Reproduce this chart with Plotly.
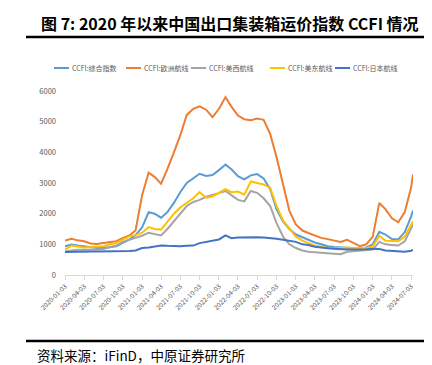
import plotly.graph_objects as go

dates = [
    "2020-01-03", "2020-02-03", "2020-03-03", "2020-04-03", "2020-05-03", "2020-06-03",
    "2020-07-03", "2020-08-03", "2020-09-03", "2020-10-03", "2020-11-03", "2020-12-03",
    "2021-01-03", "2021-02-03", "2021-03-03", "2021-04-03", "2021-05-03", "2021-06-03",
    "2021-07-03", "2021-08-03", "2021-09-03", "2021-10-03", "2021-11-03", "2021-12-03",
    "2022-01-03", "2022-02-03", "2022-03-03", "2022-04-03", "2022-05-03", "2022-06-03",
    "2022-07-03", "2022-08-03", "2022-09-03", "2022-10-03", "2022-11-03", "2022-12-03",
    "2023-01-03", "2023-02-03", "2023-03-03", "2023-04-03", "2023-05-03", "2023-06-03",
    "2023-07-03", "2023-08-03", "2023-09-03", "2023-10-03", "2023-11-03", "2023-12-03",
    "2024-01-03", "2024-02-03", "2024-03-03", "2024-04-03", "2024-05-03", "2024-06-03",
    "2024-07-03", "2024-07-12",
]

ccfi_composite = [
    935, 990, 960, 935, 900, 880, 880, 900, 935, 1050, 1150, 1300,
    1550, 2050, 2000, 1870, 2050, 2350, 2700, 3000, 3150, 3300, 3230, 3260,
    3420, 3600, 3450, 3220, 3120, 3250, 3290, 3150, 2800, 2150, 1750, 1500,
    1320, 1230, 1150, 1060, 1000, 940, 910, 890, 880, 870, 860, 900,
    1000, 1410, 1320, 1170, 1160, 1400, 1900, 2100,
]
ccfi_europe = [
    1120, 1180, 1130, 1100, 1030, 1010, 1040, 1070, 1100, 1200, 1290, 1450,
    2600, 3340, 3200, 2980, 3450, 4000, 4550, 5220, 5420, 5500, 5390, 5150,
    5420, 5800, 5490, 5200, 5080, 5050, 5100, 5060, 4600, 3850, 2950, 2100,
    1650, 1450, 1370, 1280, 1210, 1170, 1130, 1080, 1150, 1040, 940, 1000,
    1250, 2350, 2150, 1850, 1720, 2050, 2850, 3280,
]
ccfi_uswest = [
    770, 800, 820, 825, 825, 830, 850, 900, 960, 1080, 1150, 1220,
    1280, 1380, 1330, 1290, 1500, 1750, 2000, 2250, 2380, 2450, 2550, 2600,
    2670, 2740, 2600, 2450, 2400, 2740, 2680, 2500, 2250, 1700, 1250, 1000,
    880, 800, 760, 740, 720, 720, 700, 680, 760, 780, 790, 810,
    830, 1080, 1000, 980, 960, 1100, 1500, 1650,
]
ccfi_useast = [
    830, 960, 930, 900, 910, 930, 940, 1000, 1040, 1150, 1260, 1300,
    1380, 1560, 1500, 1480, 1750, 2000, 2200, 2350, 2500, 2700, 2520, 2560,
    2680, 2800, 2700, 2720, 2620, 3050, 3000, 2950, 2850, 2250, 1780, 1500,
    1250, 1120, 1050, 960, 920, 880, 870, 890, 900, 880, 880, 880,
    930, 1280, 1120, 1100, 1100, 1250, 1600, 1750,
]
ccfi_japan = [
    750, 760, 770, 770, 770, 770, 770, 770, 770, 770, 780, 800,
    880, 900, 940, 960, 950, 940, 940, 950, 960, 1040, 1080, 1100,
    1160, 1290, 1200, 1220, 1230, 1230, 1230, 1220, 1210, 1180, 1150, 1120,
    1080, 1000, 980, 920, 890, 870, 860, 840, 830, 830, 830, 840,
    860, 850, 800, 790, 780, 760, 790, 820,
]

series_names = ["CCFI:综合指数", "CCFI:欧洲航线", "CCFI:美西航线", "CCFI:美东航线", "CCFI:日本航线"]
series_values = [ccfi_composite, ccfi_europe, ccfi_uswest, ccfi_useast, ccfi_japan]
series_colors = ["#5B9BD5", "#ED7D31", "#A5A5A5", "#FFC000", "#4472C4"]

tick_labels = [
    "2020-01-03", "2020-04-03", "2020-07-03", "2020-10-03",
    "2021-01-03", "2021-04-03", "2021-07-03", "2021-10-03",
    "2022-01-03", "2022-04-03", "2022-07-03", "2022-10-03",
    "2023-01-03", "2023-04-03", "2023-07-03", "2023-10-03",
    "2024-01-03", "2024-04-03", "2024-07-03",
]
y_ticks = [0, 1000, 2000, 3000, 4000, 5000, 6000]

FONT = "Noto Sans CJK SC"
fig = go.Figure()
for name, vals, col in zip(series_names, series_values, series_colors):
    fig.add_trace(go.Scatter(x=dates, y=vals, mode="lines", name=name,
                             line=dict(color=col, width=2), showlegend=False))

# plot area: x 57..405 px, y 83..267 px
L, R, T, B = 57, 405, 83, 267
W, H = 432, 365
def px(p):
    return (p - L) / (R - L)
def py(p):
    return (B - p) / (B - T)

fig.update_layout(
    width=W, height=H,
    margin=dict(l=L, r=W - R, t=T, b=H - B),
    paper_bgcolor="white", plot_bgcolor="white",
    font=dict(family=FONT, color="#595959"),
    xaxis=dict(type="date", range=[dates[0], dates[-1]],
               tickvals=tick_labels, ticktext=tick_labels, tickangle=-45,
               tickfont=dict(size=6.5, color="#595959"),
               showline=True, linecolor="#D9D9D9", linewidth=1,
               ticks="outside", ticklen=4, tickcolor="#D9D9D9",
               showgrid=False, zeroline=False),
    yaxis=dict(range=[0, 6000], tickvals=y_ticks,
               tickfont=dict(size=7.5, color="#595959"),
               ticklabelstandoff=8,
               showgrid=False, zeroline=False, showline=False, ticks=""),
)

shapes = [
    dict(type="line", xref="paper", yref="paper", x0=px(18), x1=px(421), y0=py(29), y1=py(29),
         line=dict(color="black", width=2.5)),
    dict(type="line", xref="paper", yref="paper", x0=px(18), x1=px(421), y0=py(333), y1=py(333),
         line=dict(color="black", width=2.5)),
]
annotations = [
    dict(text="<b>图 7: 2020 年以来中国出口集装箱运价指数 CCFI 情况</b>", xref="paper", yref="paper",
         x=px(222), y=py(15), xanchor="center", yanchor="middle", showarrow=False,
         font=dict(family=FONT, size=16, color="black")),
    dict(text="资料来源：iFinD，中原证券研究所", xref="paper", yref="paper",
         x=px(27), y=py(347), xanchor="left", yanchor="middle", showarrow=False,
         font=dict(family=FONT, size=13.5, color="black")),
]

legend_x = [46, 118, 183, 262, 327]
for lx, name, col in zip(legend_x, series_names, series_colors):
    shapes.append(dict(type="line", xref="paper", yref="paper", x0=px(lx), x1=px(lx + 15),
                       y0=py(60), y1=py(60), line=dict(color=col, width=2)))
    annotations.append(dict(text=name, xref="paper", yref="paper", x=px(lx + 16), y=py(60),
                            xanchor="left", yanchor="middle", showarrow=False,
                            font=dict(family=FONT, size=7, color="#595959")))

fig.update_layout(shapes=shapes, annotations=annotations)
fig.write_html("out.html")
